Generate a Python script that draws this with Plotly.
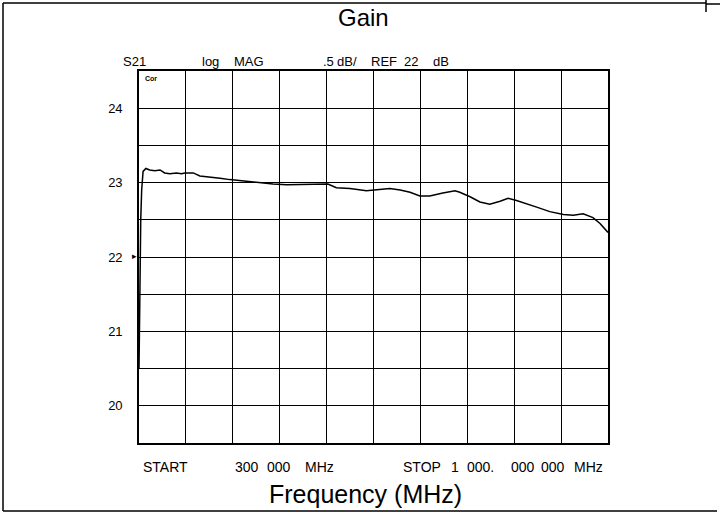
import plotly.graph_objects as go

# Frequency (MHz) and S21 gain (dB)
freq_mhz = [0.3, 2, 4, 6, 9, 15, 23, 34, 45, 55, 66, 80, 91, 98, 116, 130, 151, 173,
            194, 208, 222, 243, 264, 286, 315, 336, 358, 392, 403, 421, 450, 485,
            514, 535, 557, 578, 599, 620, 648, 674, 684, 706, 727, 748, 770, 787,
            805, 827, 848, 876, 905, 926, 947, 968, 983, 1000]
gain_db = [20.5, 21.6, 22.5, 22.9, 23.15, 23.19, 23.17, 23.16, 23.17, 23.13, 23.12,
           23.13, 23.12, 23.13, 23.13, 23.09, 23.08, 23.06, 23.04, 23.03, 23.02,
           23.01, 22.99, 22.98, 22.97, 22.97, 22.98, 22.98, 22.98, 22.93, 22.92,
           22.89, 22.91, 22.92, 22.90, 22.87, 22.82, 22.82, 22.86, 22.89, 22.87,
           22.81, 22.74, 22.71, 22.75, 22.79, 22.76, 22.71, 22.67, 22.61, 22.57,
           22.56, 22.58, 22.53, 22.45, 22.33]

y_ticks = [19.5, 20, 20.5, 21, 21.5, 22, 22.5, 23, 23.5, 24, 24.5]
y_labels = ["", "20", "", "21", "", "22", "", "23", "", "24", ""]
x_start, x_stop = 0.3, 1000.0
x_grid = [x_start + k * (x_stop - x_start) / 10 for k in range(11)]

FONT = "Liberation Sans, Arial, sans-serif"

fig = go.Figure()
fig.add_trace(go.Scatter(x=freq_mhz, y=gain_db, mode="lines",
                         line=dict(color="black", width=1.5), showlegend=False))

fig.update_xaxes(range=[x_start, x_stop], tickvals=x_grid,
                 ticktext=[""] * len(x_grid), showgrid=True, gridcolor="black",
                 gridwidth=1.4, zeroline=False, showline=True, linecolor="black",
                 linewidth=1.6, mirror=True, ticks="")
fig.update_yaxes(range=[19.5, 24.5], tickvals=y_ticks, ticktext=y_labels,
                 showgrid=True, gridcolor="black", gridwidth=1.4, zeroline=False,
                 showline=True, linecolor="black", linewidth=1.6, mirror=True,
                 ticks="", ticklabelstandoff=12,
                 tickfont=dict(family=FONT, size=13, color="black"))

W, H = 720, 514
L, R, T, B = 139, 608, 71, 443


def px(x):
    return (x - L) / (R - L)


def py(y):
    return (B - y) / (B - T)


# (text, x px, center y px, font size, anchor)
ann = [
    ("Gain", 363, 18, 24, "center"),
    ("S21", 121, 61, 13, "left"),
    ("log", 200, 61, 13, "left"),
    ("MAG", 232, 61, 13, "left"),
    (".5", 321, 61, 13, "left"),
    ("dB/", 335, 61, 13, "left"),
    ("REF", 369, 61, 13, "left"),
    ("22", 402, 61, 13, "left"),
    ("dB", 431, 61, 13, "left"),
    ("START", 141, 467, 14, "left"),
    ("300", 233, 467, 14, "left"),
    ("000", 265, 467, 14, "left"),
    ("MHz", 303, 467, 14, "left"),
    ("STOP", 401, 467, 14, "left"),
    ("1", 449, 467, 14, "left"),
    ("000.", 465, 467, 14, "left"),
    ("000", 509, 467, 14, "left"),
    ("000", 539, 467, 14, "left"),
    ("MHz", 572, 467, 14, "left"),
    ("Frequency (MHz)", 365, 494, 25, "center"),
    ("<b>Cor</b>", 151, 78, 7, "center"),
    ("▸", 134, 256, 9, "center"),
]
for text, x, y, size, anchor in ann:
    fig.add_annotation(text=text, x=px(x), y=py(y), xref="paper", yref="paper",
                       showarrow=False, xanchor=anchor, yanchor="middle",
                       font=dict(family=FONT, size=size, color="black"))

# outer frame of the scanned page
frame = [
    (3, 3, 3, 511),
    (3, 3, 706, 3),
    (3, 511, 717, 511),
    (706, 0, 706, 12),
    (706, 4, 720, 4),
]
for x0, y0, x1, y1 in frame:
    fig.add_shape(type="line", xref="paper", yref="paper",
                  x0=px(x0), y0=py(y0), x1=px(x1), y1=py(y1),
                  line=dict(color="black", width=1.5))

fig.update_layout(width=W, height=H, margin=dict(l=L, r=W - R, t=T, b=H - B),
                  paper_bgcolor="white", plot_bgcolor="white",
                  font=dict(family=FONT, color="black"))

fig.write_html("out.html", config={"displayModeBar": False},
               post_script="document.body.style.margin='0';document.body.style.overflow='hidden';")
